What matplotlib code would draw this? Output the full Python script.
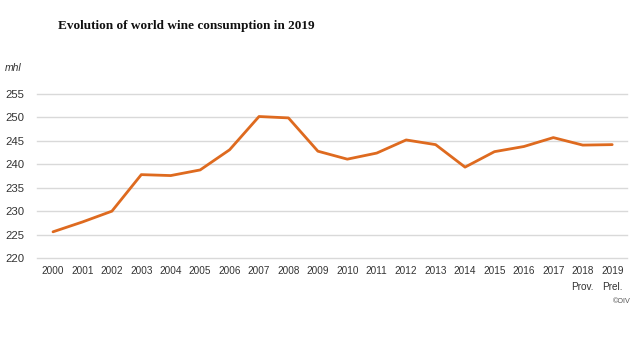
import matplotlib.pyplot as plt

years = [str(y) for y in range(2000, 2020)]
tick_labels = years[:18] + ["2018\nProv.", "2019\nPrel."]
consumption = [225.6, 227.7, 230.0, 237.8, 237.6, 238.8, 243.1, 250.2, 249.9, 242.8,
               241.1, 242.4, 245.2, 244.2, 239.4, 242.7, 243.8, 245.7, 244.1, 244.2]
yticks = [220, 225, 230, 235, 240, 245, 250, 255]

cond = ["Liberation Sans", "DejaVu Sans"]

fig = plt.figure(figsize=(6.4, 3.4), dpi=100, facecolor="white")
ax = fig.add_axes([0.058, 0.241, 0.922, 0.4825])

x = list(range(len(years)))
ax.plot(x, consumption, color="#DE6A1F", linewidth=2.0, solid_capstyle="round", zorder=3)

ax.set_xlim(-0.54, 19.51)
ax.set_ylim(220, 255)
ax.set_yticks(yticks)
ax.set_xticks(x)
ax.set_xticklabels(tick_labels, family=cond, fontsize=7.2, color="#333333", linespacing=1.75)
ax.set_yticklabels([str(v) for v in yticks], family=cond, fontsize=8.2, color="#333333")

ax.grid(axis="y", color="#d9d9d9", linewidth=1.0, zorder=0)
for gl in ax.get_ygridlines():
    gl.set_clip_on(False)
ax.tick_params(axis="both", length=0)
ax.tick_params(axis="x", pad=6)
ax.tick_params(axis="y", pad=9)
for s in ax.spines.values():
    s.set_visible(False)

fig.text(0.091, 0.924, "Evolution of world wine consumption in 2019",
         family=["Liberation Serif", "DejaVu Serif"], fontweight="bold", fontsize=9.5,
         ha="left", va="center", color="#111111")
fig.text(0.008, 0.80, "mhl", family=cond, style="italic", fontsize=7.5,
         ha="left", va="center", color="#333333")
fig.text(0.985, 0.112, "©OIV", family=cond, fontsize=5.2,
         ha="right", va="center", color="#555555")

fig.savefig("out.png", dpi=100, facecolor="white")
